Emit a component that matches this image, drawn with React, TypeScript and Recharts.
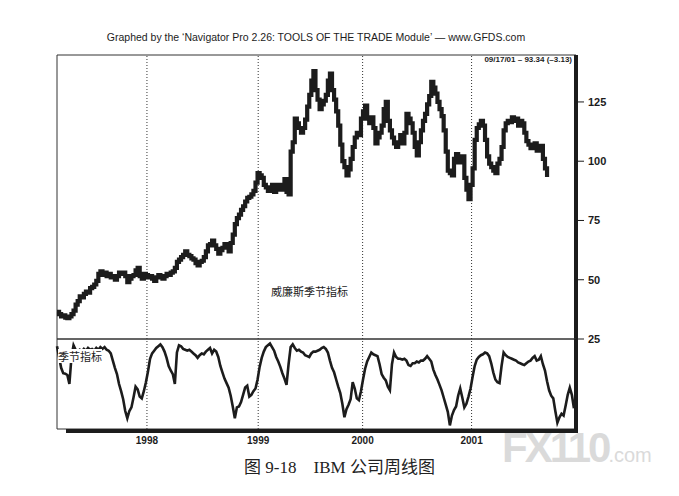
import { LineChart, Line, XAxis, YAxis, ReferenceLine, ReferenceArea } from "recharts";

// IBM weekly closes, week 0 = early March 1997, last week = 09/17/01
const weeklyClose = [
  36.5, 35.5, 34.5, 35, 34, 33.8, 34.5, 35.5, 37, 39.5,
  41, 43, 42.5, 44, 45, 44.5, 46.5, 47, 48, 49.5,
  52.5, 53.5, 52, 53, 51.5, 52.5, 51, 51.5, 50, 51.5,
  53, 52.5, 53, 51.5, 49, 50.5, 51.5, 52, 54, 55,
  51.5, 50.5, 52.5, 52, 51, 51.5, 50.5, 49.5, 51, 52,
  51, 50.5, 51.5, 52.5, 52, 53, 53.5, 55, 57.5, 58.5,
  59.5, 60.5, 62, 60.5, 60, 59, 58.5, 57, 56, 57.5,
  58, 59.5, 62, 64.5, 65, 66.5, 64.5, 63, 61, 62.5,
  63.5, 65, 64, 62, 65.5, 69, 73.5, 76, 77.5, 79.5,
  81, 83, 84.5, 85, 86, 87.5, 91, 95, 94, 93,
  90, 89, 87.5, 88.5, 90, 87, 88, 90, 88, 89,
  92.5, 87, 86, 104, 108, 118, 116, 114, 112, 114,
  117.5, 123, 128, 134, 138, 130, 126, 122, 124, 125.5,
  128, 134, 137, 130, 126, 121, 115, 107, 100, 97.5,
  94, 96.5, 101, 106, 110, 112, 111, 118, 121, 123.5,
  118, 116, 118.5, 114, 107.5, 110, 112, 115, 122, 125,
  117, 113, 110, 107.5, 106, 108, 111, 107.5, 112, 120,
  118, 116, 112, 106, 102.5, 108, 113, 117, 120, 124,
  127.5, 133.5, 131, 128.5, 125, 122, 119, 113, 104, 96,
  95, 94, 101, 103, 99.5, 101.5, 102, 93, 88, 84,
  90, 97, 109, 114, 115.5, 117, 115, 109, 102, 99,
  97.5, 96, 95, 99, 101, 106, 113, 116, 117, 116.5,
  118.5, 117, 118, 115, 117, 116, 112, 108.5, 107, 105.5,
  106, 107.5, 104.5, 106, 106.5, 101, 97, 93.34,
];

// Williams seasonal indicator, same weeks, runs a few weeks past the last price
const seasonalIndex = [
  92, 80, 68, 62, 61.5, 60, 50, 80, 93, 88,
  86, 88, 86, 89, 87, 90, 88, 89, 87, 90,
  88, 91, 89, 91, 88, 87, 84, 76, 68, 61,
  50, 42, 33, 20, 12, 20, 24, 35, 47, 44,
  36, 34, 42, 52, 64, 78, 84, 87, 90, 92,
  94, 91, 86, 79, 70, 65, 61, 50, 85, 93,
  92, 89, 88, 87, 88, 86, 84, 82, 79, 82,
  84, 83, 86, 88, 90, 84, 88, 86, 80, 70,
  63, 56, 51, 46, 37, 25, 12, 24, 25, 30,
  38, 46, 48, 36, 38, 42, 45, 55, 69, 79,
  86, 91, 93, 95, 91, 87, 80, 75, 69, 62,
  56, 49, 72, 91, 94, 90, 87, 88, 86, 85,
  82, 81, 80, 84, 86, 86, 87, 88, 90, 91,
  89, 85, 76, 68, 63, 55, 47, 40, 28, 13,
  22, 27, 33, 52, 45, 34, 32, 42, 55, 67,
  75, 80, 85, 83, 82, 81, 72, 61, 57, 54,
  47, 43, 72, 85, 80, 78, 78, 77, 78, 76,
  71, 70, 73, 73, 75, 74, 76, 76, 78, 81,
  78, 75, 66, 60, 55, 49, 43, 35, 27, 19,
  4, 15, 21, 25, 37, 45, 35, 24, 28, 36,
  45, 58, 70, 77, 80, 82, 83, 85, 84, 81,
  73, 63, 55, 52, 51, 70, 85, 82, 80, 79,
  78, 77, 76, 74, 73, 72, 71, 73, 75, 76,
  79, 81, 76, 77, 81, 72, 65, 53, 43, 37,
  34, 20, 7, 13, 17, 15, 26, 38, 46, 38, 23,
];

const yearTicks = [43.5, 97.3, 147.8, 200.5];
const yearLabels = ["1998", "1999", "2000", "2001"];
const priceTicks = [25, 50, 75, 100, 125];
const lastQuote = "09/17/01 – 93.34 (–3.13)";

const priceData = weeklyClose.map((close, week) => ({ week, close }));
const seasonalData = seasonalIndex.map((value, week) => ({ week, value }));

const ink = "#1c1c1c";
const sans = "'Liberation Sans', Arial, sans-serif";

export default function App() {
  return (
    <div style={{ position: "absolute", left: 0, top: 0, width: 679, height: 496, background: "#fff", fontFamily: sans }}>
      <div style={{ position: "absolute", left: 0, width: 632, top: 31, textAlign: "center", fontSize: 10.5, color: ink }}>
        Graphed by the ‘Navigator Pro 2.26: TOOLS OF THE TRADE Module’ — www.GFDS.com
      </div>

      <div style={{ position: "absolute", left: 0, top: 0 }}>
        <LineChart width={679} height={496} data={priceData} margin={{ top: 55, right: 63, bottom: 157, left: 57 }}>
          <XAxis dataKey="week" type="number" domain={[0, 251]} hide />
          <YAxis
            orientation="right"
            width={40}
            domain={[25, 144.8]}
            ticks={priceTicks}
            allowDataOverflow
            axisLine={{ stroke: ink, strokeWidth: 4 }}
            tickLine={{ stroke: ink }}
            tickSize={8}
            tickMargin={4}
            tick={{ fill: ink, fontSize: 11, fontWeight: "bold", fontFamily: sans }}
          />
          <ReferenceArea x1={0} x2={251} y1={25} y2={144.8} fill="none" stroke="#333" fillOpacity={0} />
          {yearTicks.map((t) => (
            <ReferenceLine key={t} x={t} stroke="#333" strokeDasharray="1 2" />
          ))}
          <Line dataKey="close" stroke={ink} strokeWidth={4.2} strokeLinejoin="miter" dot={false} type="stepAfter" isAnimationActive={false} />
        </LineChart>
      </div>

      <div style={{ position: "absolute", left: 0, top: 0 }}>
        <LineChart width={679} height={496} data={seasonalData} margin={{ top: 339, right: 63, bottom: 37, left: 57 }}>
          <XAxis
            dataKey="week"
            type="number"
            domain={[0, 251]}
            ticks={yearTicks}
            tickFormatter={(v) => yearLabels[yearTicks.indexOf(v)] ?? ""}
            axisLine={false}
            tickLine={false}
            height={30}
            tick={{ fill: ink, fontSize: 10, fontWeight: "bold", fontFamily: sans }}
          />
          <YAxis orientation="right" width={40} domain={[0, 100]} tick={false} tickLine={false} axisLine={{ stroke: ink, strokeWidth: 4 }} />
          <ReferenceArea x1={0} x2={251} y1={0} y2={100} fill="none" stroke="#333" fillOpacity={0} />
          {yearTicks.map((t) => (
            <ReferenceLine key={t} x={t} stroke="#333" strokeDasharray="1 2" />
          ))}
          <Line dataKey="value" stroke={ink} strokeWidth={2.6} dot={false} type="linear" isAnimationActive={false} />
        </LineChart>
      </div>

      <div style={{ position: "absolute", left: 66, top: 429, width: 512, height: 4, background: ink }} />

      <div style={{ position: "absolute", right: 679 - 572, top: 55, fontSize: 8, fontWeight: "bold", color: ink }}>{lastQuote}</div>
      <div style={{ position: "absolute", left: 271, top: 283, fontSize: 11, color: ink, fontFamily: "'Noto Sans CJK SC', sans-serif" }}>威廉斯季节指标</div>
      <div style={{ position: "absolute", left: 58, top: 349, fontSize: 11, color: ink, background: "#fff", lineHeight: "14px", fontFamily: "'Noto Sans CJK SC', sans-serif" }}>季节指标</div>

      <div style={{ position: "absolute", left: 502, top: 424, fontSize: 42, fontWeight: "bold", color: "#dadada", letterSpacing: -3 }}>
        FX110<span style={{ fontSize: 20, fontWeight: "normal", letterSpacing: 0 }}>.com</span>
      </div>

      <div style={{ position: "absolute", left: 0, width: 679, top: 453, textAlign: "center", fontSize: 17, color: "#222", fontFamily: "'Liberation Serif', 'Noto Sans CJK SC', serif" }}>
        图 9-18&nbsp;&nbsp;&nbsp;&nbsp;IBM 公司周线图
      </div>
    </div>
  );
}
